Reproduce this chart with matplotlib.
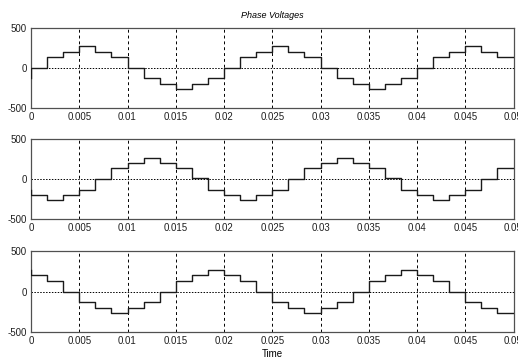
import numpy as np
import matplotlib
matplotlib.use("Agg")
import matplotlib.pyplot as plt

# 12-step phase voltages, one level per 1/600 s step, 0 .. 0.05 s
step_dt = 0.05 / 30
phase_a = [0, 133, 200, 267, 200, 133, 0, -133, -200, -267, -200, -133,
           0, 133, 200, 267, 200, 133, 0, -133, -200, -267, -200, -133,
           0, 133, 200, 267, 200, 133]
phase_b = [-200, -267, -200, -133, 0, 133, 200, 267, 200, 133, 12, -133,
           -200, -267, -200, -133, 0, 133, 200, 267, 200, 133, 12, -133,
           -200, -267, -200, -133, 0, 133]
phase_c = [200, 133, 0, -133, -200, -267, -200, -133, 0, 133, 200, 267,
           200, 133, 0, -133, -200, -267, -200, -133, 0, 133, 200, 267,
           200, 133, 0, -133, -200, -267]
start_values = [-133, -133, 267]  # value at t=0 before first step

xticks = [0, 0.005, 0.01, 0.015, 0.02, 0.025, 0.03, 0.035, 0.04, 0.045, 0.05]
xticklabels = ["0", "0.005", "0.01", "0.015", "0.02", "0.025", "0.03",
               "0.035", "0.04", "0.045", "0.05"]
yticks = [-500, 0, 500]

plt.rcParams['font.family'] = ['Liberation Sans Narrow', 'Liberation Sans', 'DejaVu Sans']

fig = plt.figure(figsize=(5.18, 3.58), dpi=100)
W, H = 518, 358
boxes = [(27.5, 107.5), (139, 219), (251, 332)]
left, right = 31, 513.5

for (top, bot), vals, v0 in zip(boxes, [phase_a, phase_b, phase_c], start_values):
    ax = fig.add_axes([left / W, 1 - bot / H, (right - left) / W, (bot - top) / H])
    t = np.concatenate([[0.0], np.arange(len(vals) + 1) * step_dt])
    y = [v0] + vals + [vals[-1]]
    ax.plot(t, y, drawstyle='steps-post', color='#1a1a1a', lw=1.0, zorder=3)
    ax.set_xlim(0, 0.05)
    ax.set_ylim(-500, 500)
    ax.set_xticks(xticks)
    ax.set_xticklabels(xticklabels)
    ax.set_yticks(yticks)
    ax.set_yticklabels(["-500", "0", "500"])
    for xv in xticks[1:-1]:
        ax.axvline(xv, color='black', lw=0.7, ls=(0, (3, 3)), zorder=1)
    ax.axhline(0, color='black', lw=0.7, ls=(0, (1.5, 1.5)), zorder=1)
    for s in ax.spines.values():
        s.set_color('#505050')
        s.set_linewidth(0.9)
    ax.tick_params(length=0, labelsize=7, pad=3, colors='#202020')
    for lab in ax.get_xticklabels():
        lab.set_clip_on(False)
    if top == boxes[0][0]:
        ax.set_title("Phase Voltages", fontsize=6.5, style='italic', pad=7)
    if top == boxes[-1][0]:
        ax.set_xlabel("Time", fontsize=7, labelpad=2)

fig.savefig("out.png", dpi=100)
